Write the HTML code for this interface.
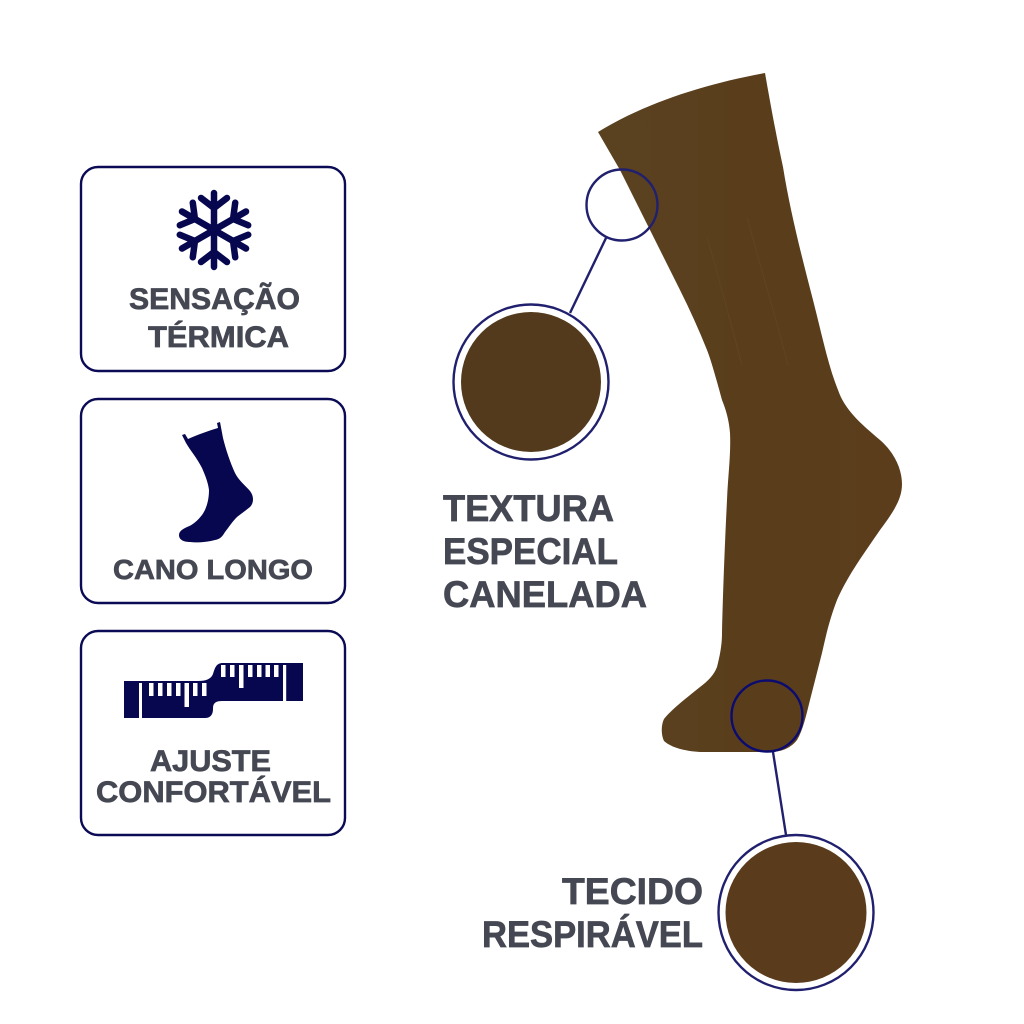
<!DOCTYPE html>
<html>
<head>
<meta charset="utf-8">
<style>
html,body{margin:0;padding:0;background:#fff;width:1024px;height:1024px;overflow:hidden}
svg{display:block}
text{font-family:"Liberation Sans",sans-serif;font-weight:700;fill:#454853;stroke:#454853;stroke-width:.7px}
</style>
</head>
<body>
<svg width="1024" height="1024" viewBox="0 0 1024 1024" xmlns="http://www.w3.org/2000/svg">
<defs>
<linearGradient id="sock" x1="0" y1="0" x2="1" y2="0">
<stop offset="0" stop-color="#5a4220"/>
<stop offset="0.5" stop-color="#5a3e1c"/>
<stop offset="1" stop-color="#5b3d1c"/>
</linearGradient>
</defs>
<rect width="1024" height="1024" fill="#fff"/>

<!-- cards -->
<g fill="#fff" stroke="#0b0b55" stroke-width="2.4">
<rect x="81" y="167" width="264" height="204" rx="17"/>
<rect x="81" y="399" width="264" height="204" rx="17"/>
<rect x="81" y="631" width="264" height="204" rx="17"/>
</g>

<!-- snowflake -->
<g stroke="#07074f" stroke-width="6.500" stroke-linecap="round" fill="none">
<g><path d="M214 230V193M201 198L214 208L227 198"/></g>
<g transform="rotate(60 214 230)"><path d="M214 230V193M201 198L214 208L227 198"/></g>
<g transform="rotate(120 214 230)"><path d="M214 230V193M201 198L214 208L227 198"/></g>
<g transform="rotate(180 214 230)"><path d="M214 230V193M201 198L214 208L227 198"/></g>
<g transform="rotate(240 214 230)"><path d="M214 230V193M201 198L214 208L227 198"/></g>
<g transform="rotate(300 214 230)"><path d="M214 230V193M201 198L214 208L227 198"/></g>
</g>

<text x="129" y="309" font-size="30" textLength="171" lengthAdjust="spacingAndGlyphs">SENSAÇÃO</text>
<text x="148" y="347" font-size="30" textLength="141" lengthAdjust="spacingAndGlyphs">TÉRMICA</text>

<!-- small sock icon -->
<path fill="#07074f" d="M182 435L185 434L188 439C197 435 208 431 218 428L217 423L220 422L223 438C226 450 230 462 235 473C239 481 246 486 250 491C254 496 254 503 250 507C245 511 241 514 237 517C232 522 229 527 225 532C222 537 220 539 215 540C208 542 197 543 190 542C184 542 179 540 179 535C179 531 183 529 187 527C193 525 198 520 202 515C207 508 209 499 209 490C208 482 205 475 202 468C197 458 190 450 186 443Z"/>
<text x="113" y="579" font-size="28" textLength="200" lengthAdjust="spacingAndGlyphs">CANO LONGO</text>

<!-- tape icon -->
<path fill="#07074f" d="M124 681H198C206 681 211 679 213 674C215 668 216 663 223 663H303V701H222C216 701 213 703 213 708V709C213 715 210 718 205 718H124Z"/>
<g fill="#fff">
<rect x="139" y="683" width="3" height="35"/>
<rect x="149" y="683" width="4.500" height="13"/>
<rect x="158" y="683" width="4.500" height="13"/>
<rect x="167" y="683" width="4.500" height="13"/>
<rect x="176" y="683" width="4.500" height="13"/>
<rect x="184.500" y="683" width="4.500" height="24"/>
<rect x="193" y="683" width="4.500" height="13"/>
<rect x="202" y="683" width="4.500" height="13"/>
<rect x="221" y="665" width="4.500" height="12"/>
<rect x="230" y="665" width="4.500" height="12"/>
<rect x="239" y="665" width="4.500" height="23"/>
<rect x="248" y="665" width="4.500" height="12"/>
<rect x="257" y="665" width="4.500" height="12"/>
<rect x="265.500" y="665" width="4.500" height="12"/>
<rect x="274" y="665" width="4.500" height="12"/>
<rect x="283" y="665" width="3.200" height="36"/>
</g>
<text x="150" y="771" font-size="30" textLength="121" lengthAdjust="spacingAndGlyphs">AJUSTE</text>
<text x="96" y="802" font-size="30" textLength="235" lengthAdjust="spacingAndGlyphs">CONFORTÁVEL</text>

<!-- main sock -->
<path fill="url(#sock)" d="M598 132C645 103 705 84 765 73C768 90 775 130 783 167C790 210 800 250 813 300C822 335 828 365 838 390C845 410 860 423 880 440C895 453 902 470 902 484C902 498 895 510 880 530C865 552 848 575 837 600C830 618 826 635 822 653L810 700C806 716 803 730 797 740C790 749 780 752 770 752L700 752C685 751 672 748 664 741C661 735 661 725 664 719C670 711 685 699 700 687C708 681 714 675 717 667C720 655 722 645 722 633C723 590 725 540 727 500C728 475 731 455 730 433C729 420 726 410 722 400C716 378 711 360 707 350C699 330 690 310 680 290L650 230L620 170Z"/>
<g stroke="#6a4a2a" stroke-width="1" fill="none" opacity=".45">
<path d="M707 237C718 275 730 320 742 365"/>
<path d="M747 217C760 265 775 315 788 365"/>
</g>

<!-- callouts -->
<g fill="none" stroke="#20206e" stroke-width="2.400">
<circle cx="622" cy="205" r="35.500"/>
<path d="M606 238L570 313"/>
<circle cx="531" cy="382" r="77.500"/>
<path d="M773 752L786 835"/>
<circle cx="796" cy="912.500" r="77.500"/>
</g>
<circle cx="767" cy="716" r="35.500" fill="none" stroke="#0b0b70" stroke-width="2.400"/>
<circle cx="531" cy="382" r="70" fill="#533a1c"/>
<circle cx="796" cy="912.500" r="70.500" fill="#5a3b1c"/>

<text x="443" y="521" font-size="37" textLength="171" lengthAdjust="spacingAndGlyphs">TEXTURA</text>
<text x="443" y="564" font-size="37" textLength="175" lengthAdjust="spacingAndGlyphs">ESPECIAL</text>
<text x="443" y="607" font-size="37" textLength="204" lengthAdjust="spacingAndGlyphs">CANELADA</text>
<text x="562" y="904" font-size="37" textLength="141" lengthAdjust="spacingAndGlyphs">TECIDO</text>
<text x="482" y="947" font-size="37" textLength="221" lengthAdjust="spacingAndGlyphs">RESPIRÁVEL</text>
</svg>
</body>
</html>
